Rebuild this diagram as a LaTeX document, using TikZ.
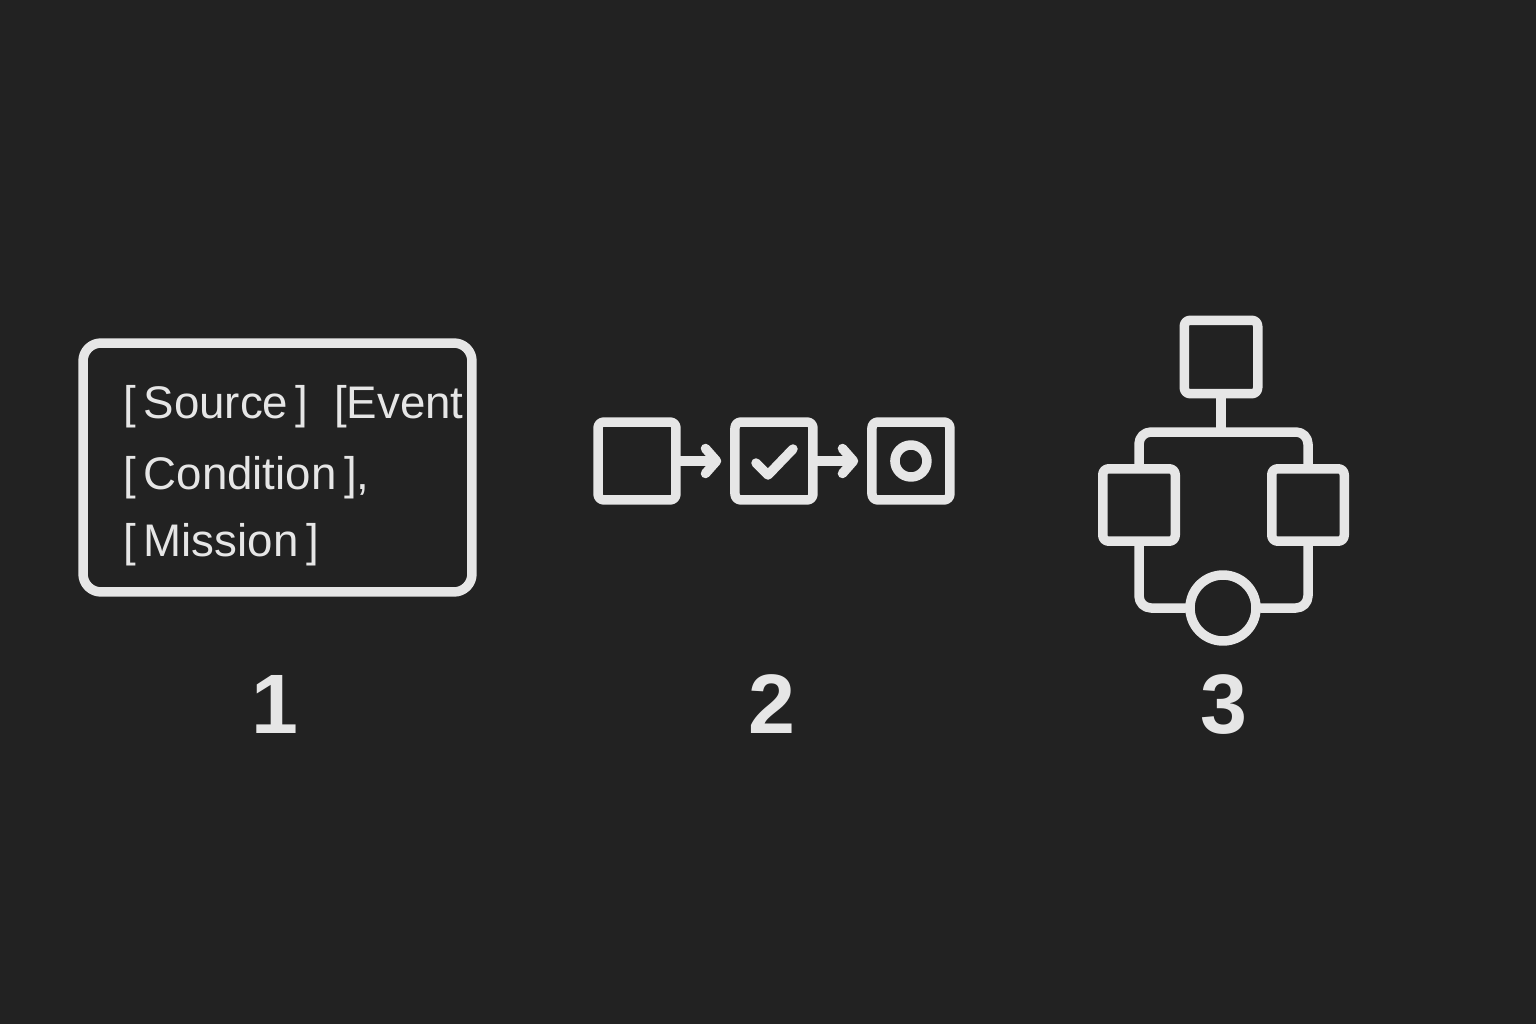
\documentclass[tikz,border=0pt]{standalone}
\usepackage{fontspec}
\setmainfont{Liberation Sans}
\usepackage{tikz}
\usetikzlibrary{arrows.meta, positioning}
\definecolor{bg}{HTML}{222222}
\definecolor{ink}{HTML}{E6E6E6}

\begin{document}
\begin{tikzpicture}[x=0.02cm, y=-0.02cm, node distance=2.74cm, on grid,
	wire/.style={draw=ink, line width=0.19cm, line cap=round, line join=round},
	box/.style={wire, rectangle, rounded corners=0.12cm, minimum size=1.56cm, inner sep=0pt},
	ring/.style={wire, circle, inner sep=0pt},
	label/.style={text=ink, font=\fontsize{26}{30}\selectfont, inner sep=0pt},
	num/.style={text=ink, font=\bfseries\fontsize{48}{56}\selectfont, inner sep=0pt}]
	\fill[bg] (0,0) rectangle (1536,1024);
	\useasboundingbox (0,0) rectangle (1536,1024);
	
	% 1
	\node[wire, rectangle, rounded corners=0.36cm, minimum width=7.78cm, minimum height=4.98cm] (card) at (277.5,467.5) {};
	\node[label, anchor=base west] (src) at (123,418) {[\,Source\,]\ \ [Event};
	\node[label, anchor=base west] (cond) at (123,489) {[\,Condition\,],};
	\node[label, anchor=base west] (miss) at (123,556) {[\,Mission\,]};
	\node[num, anchor=base] (one) at (275,733) {1};
	
	% 2
	\node[box] (start) at (637,461) {};
	\node[box, right=of start] (check) {};
	\node[box, right=of check] (goal) {};
	\draw[wire] (756,463) -- (768,475) -- (793,449);
	\node[ring, minimum size=0.64cm] (dot) at (goal) {};
	\path[wire, -{Straight Barb[length=0.22cm, width=0.5cm, round]}, shorten >=0.18cm]
	(start) edge (check)
	(check) edge (goal);
	\node[num, anchor=base] (two) at (772,733) {2};
	
	% 3
	\node[box, minimum size=1.47cm] (top) at (1221,357) {};
	\node[box, minimum size=1.45cm] (left) at (1139,505) {};
	\node[box, minimum size=1.45cm] (right) at (1308,505) {};
	\node[ring, minimum size=1.32cm] (end) at (1223,608) {};
	\coordinate (split) at (1221,432);
	\draw[wire] (top) -- (split);
	\draw[wire, rounded corners=0.24cm] (left.north) |- (split) -| (right.north);
	\draw[wire, rounded corners=0.24cm] (left.south) |- (end.west);
	\draw[wire, rounded corners=0.24cm] (right.south) |- (end.east);
	\node[num, anchor=base] (three) at (1224,733) {3};
\end{tikzpicture}
\end{document}
